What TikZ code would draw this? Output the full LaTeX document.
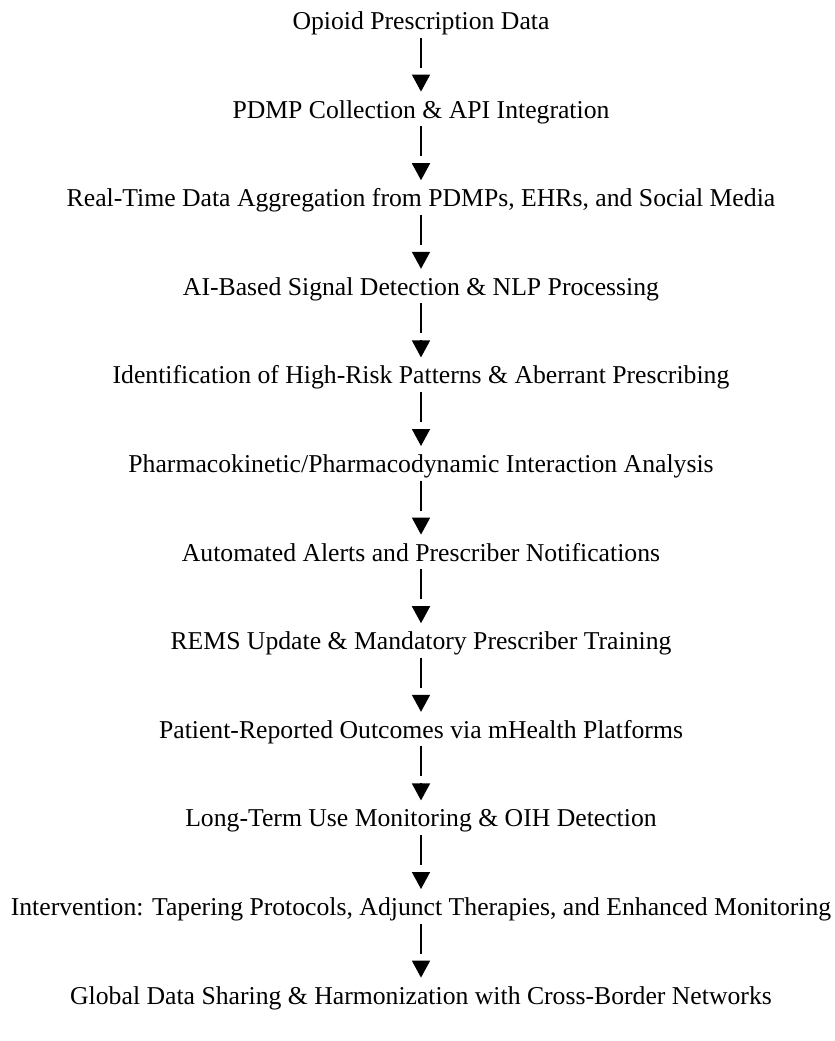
\documentclass[tikz,border=0pt]{standalone}
\usepackage{fontspec}
\setmainfont{Liberation Serif}
\usetikzlibrary{positioning,arrows.meta}

\begin{document}
\begin{tikzpicture}[
  x=0.5pt, y=-0.5pt,
  node distance=31.05pt,
  every node/.style={inner sep=0pt, font=\fontsize{12.85}{15}\selectfont,
    text height=9.64pt, text depth=3.21pt},
  flowline/.style={draw, line width=0.8pt, shorten <=0.6pt, shorten >=15.4pt},
  flowtip/.style={draw, line width=0.8pt, shorten <=19.1pt, shorten >=3.4pt,
    -{Triangle[length=8.5pt,width=9pt]}}
]
\useasboundingbox (0,0) rectangle (835,1041);
\node[anchor=base] (s1) at (421,29.5) {Opioid Prescription Data};
\node[below=of s1] (s2) {PDMP Collection \& API Integration};
\node[below=of s2] (s3) {Real-Time Data Aggregation from PDMPs, EHRs, and Social Media};
\node[below=of s3] (s4) {AI-Based Signal Detection \& NLP Processing};
\node[below=of s4] (s5) {Identification of High-Risk Patterns \& Aberrant Prescribing};
\node[below=of s5] (s6) {Pharmacokinetic/Pharmacodynamic Interaction Analysis};
\node[below=of s6] (s7) {Automated Alerts and Prescriber Notifications};
\node[below=of s7] (s8) {REMS Update \& Mandatory Prescriber Training};
\node[below=of s8] (s9) {Patient-Reported Outcomes via mHealth Platforms};
\node[below=of s9] (s10) {Long-Term Use Monitoring \& OIH Detection};
\node[below=of s10] (s11) {Intervention: Tapering Protocols, Adjunct Therapies, and Enhanced Monitoring};
\node[below=of s11] (s12) {Global Data Sharing \& Harmonization with Cross-Border Networks};

% stem, then the head set apart from it
\foreach \a/\b in {s1/s2,s2/s3,s3/s4,s4/s5,s5/s6,s6/s7,s7/s8,s8/s9,s9/s10,s10/s11,s11/s12}
  \draw (\a) edge[flowline] (\b) edge[flowtip] (\b);
\end{tikzpicture}
\end{document}
